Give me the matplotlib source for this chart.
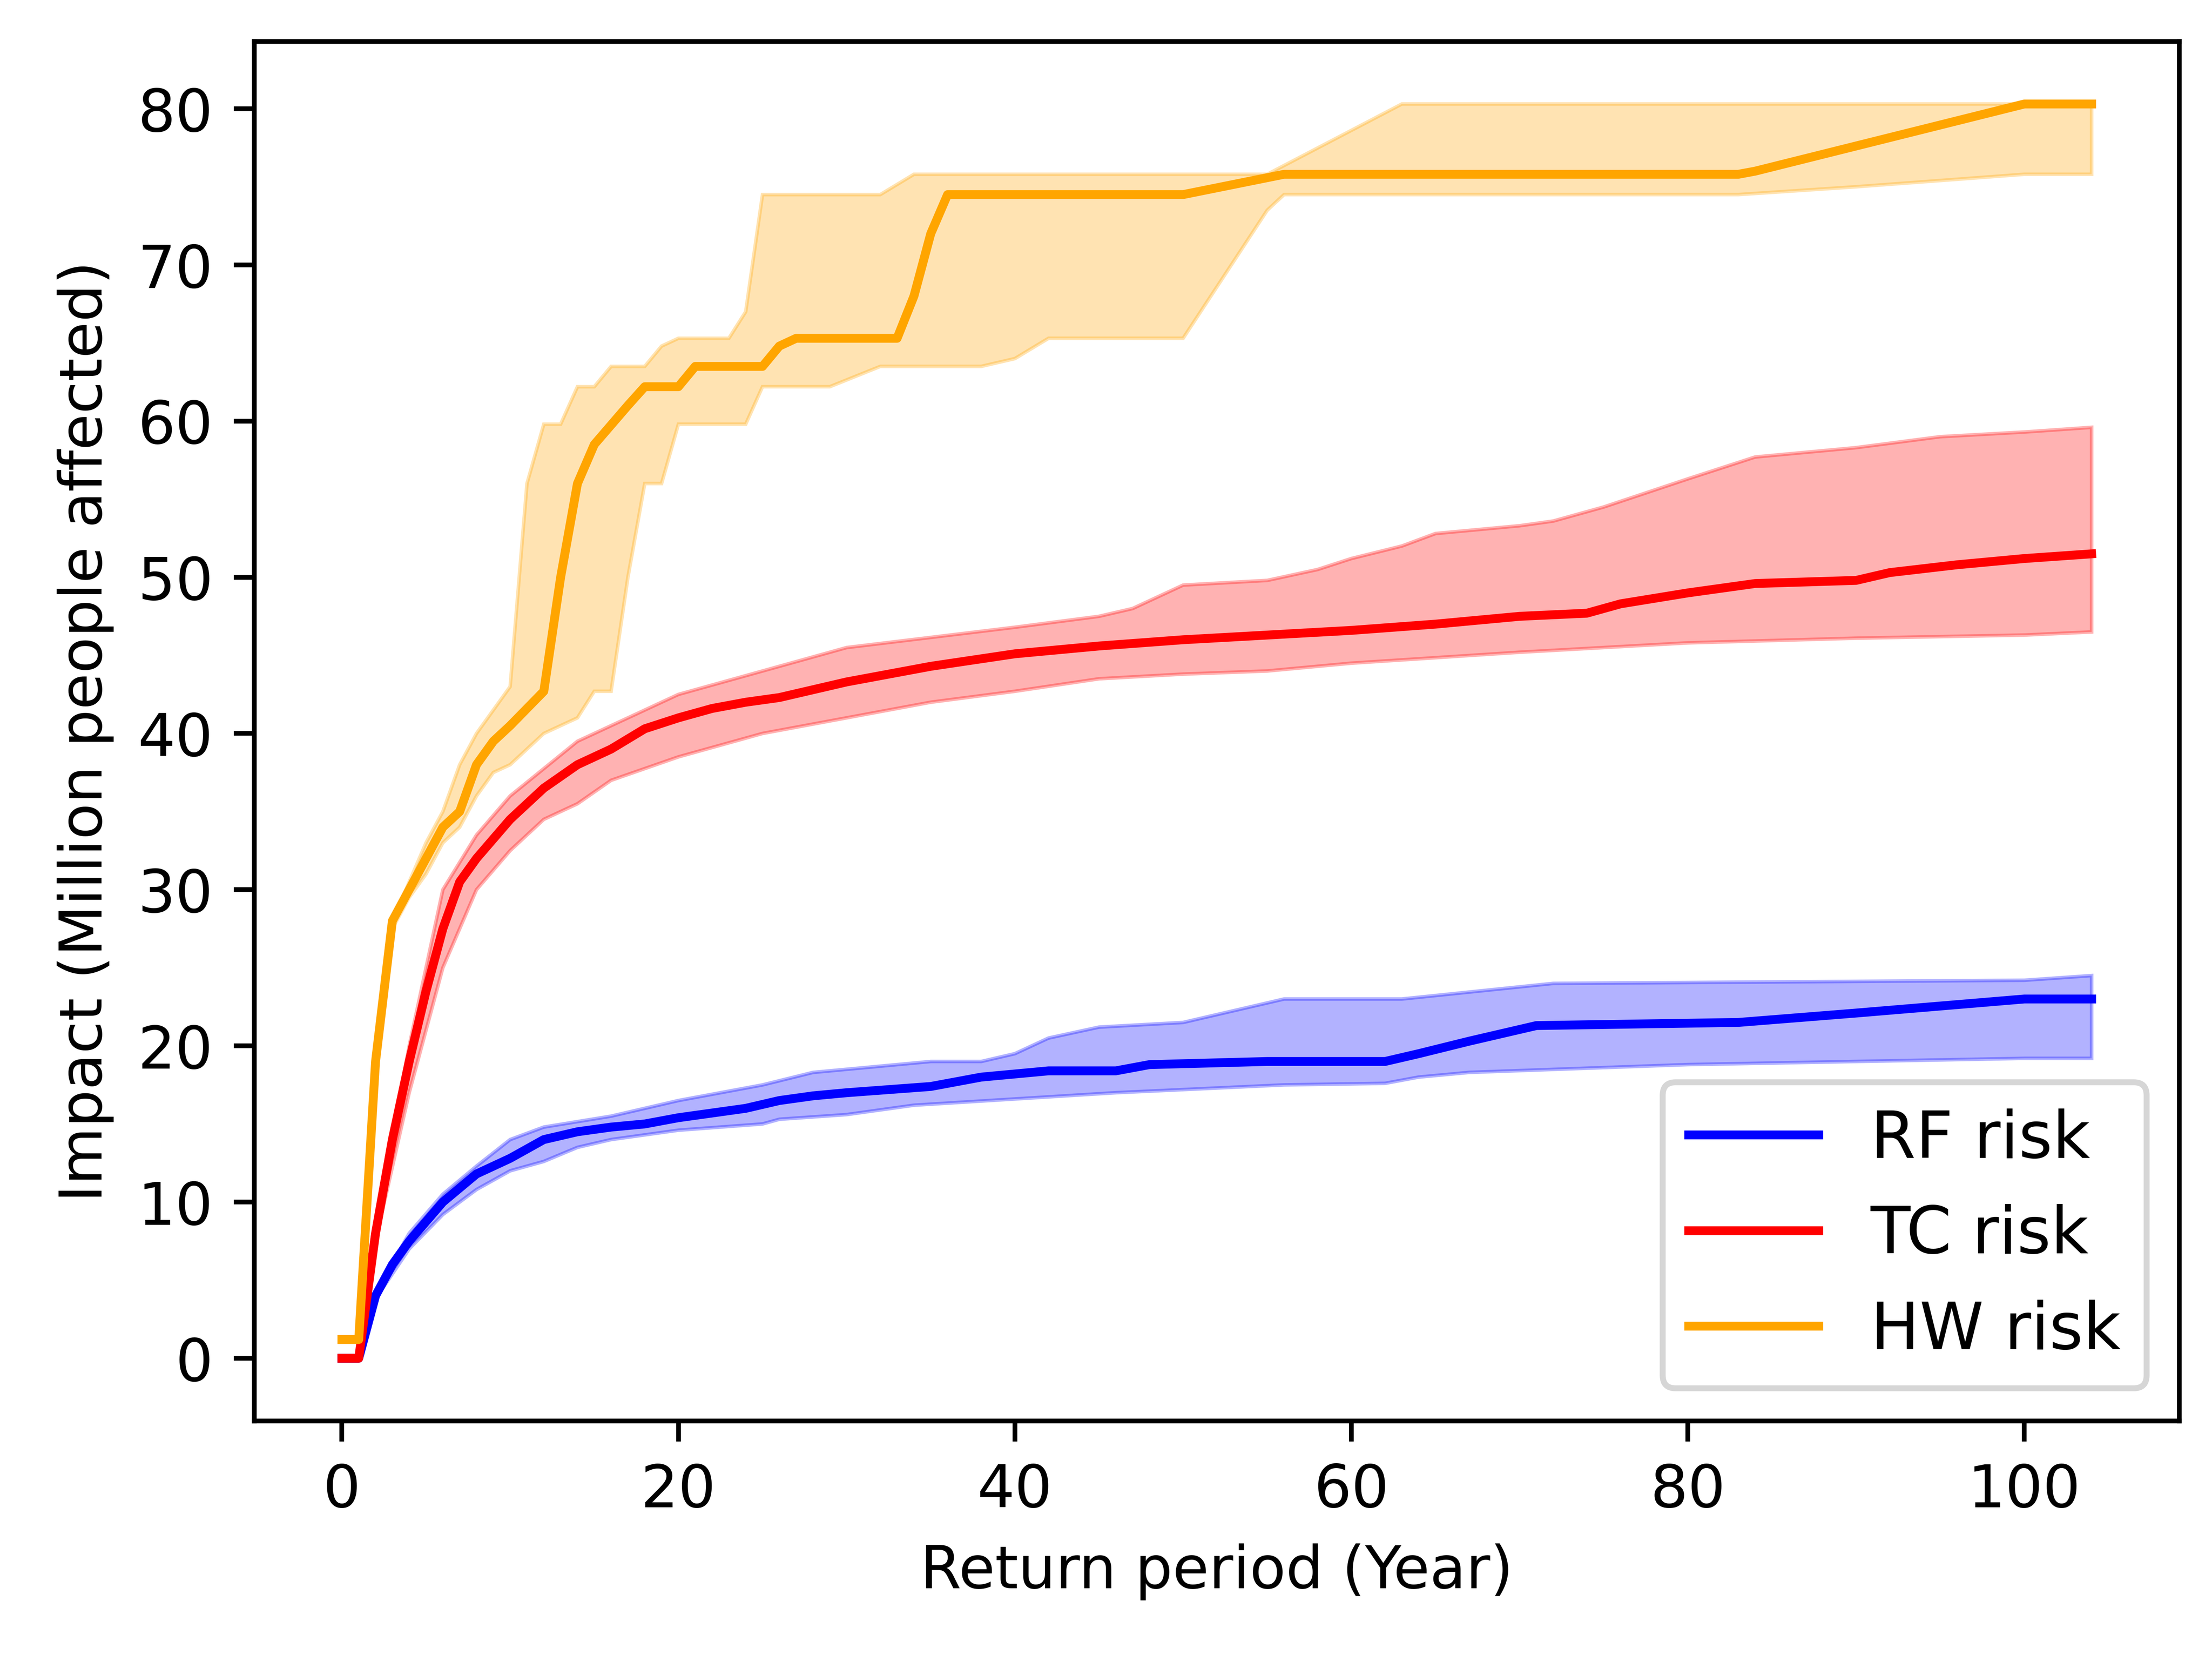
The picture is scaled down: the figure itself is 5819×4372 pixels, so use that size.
import numpy as np
import matplotlib.pyplot as plt

# HW risk
hw_x = [0, 1, 2, 3, 4, 5, 6, 7, 8, 9, 10, 12, 13, 14, 15, 17, 18, 20, 21, 25, 26, 27, 33, 34, 35, 36, 50, 56, 83, 84, 100, 104]
hw_y = [1.2, 1.2, 19, 28, 30, 32, 34, 35, 38, 39.5, 40.5, 42.7, 50, 56, 58.5, 61, 62.2, 62.2, 63.5, 63.5, 64.8, 65.3, 65.3, 68, 72, 74.5, 74.5, 75.8, 75.8, 76, 80.3, 80.3]
hw_up_x = [0, 1, 2, 3, 4, 5, 6, 7, 8, 10, 11, 12, 13, 14, 15, 16, 18, 19, 20, 23, 24, 25, 32, 34, 55, 63, 104]
hw_up_y = [1.2, 1.2, 19, 28, 30.5, 33, 35, 38, 40, 43, 56, 59.8, 59.8, 62.2, 62.2, 63.5, 63.5, 64.8, 65.3, 65.3, 67, 74.5, 74.5, 75.8, 75.8, 80.3, 80.3]
hw_lo_x = [0, 1, 2, 3, 4, 5, 6, 7, 8, 9, 10, 12, 14, 15, 16, 17, 18, 19, 20, 24, 25, 29, 32, 38, 40, 42, 50, 55, 56, 83, 90, 100, 104]
hw_lo_y = [1.2, 1.2, 19, 27.5, 29.5, 31, 33, 34, 36, 37.5, 38, 40, 41, 42.7, 42.7, 50, 56, 56, 59.8, 59.8, 62.2, 62.2, 63.5, 63.5, 64, 65.3, 65.3, 73.5, 74.5, 74.5, 75, 75.8, 75.8]

# TC risk
tc_x = [0, 1, 2, 3, 4, 5, 6, 7, 8, 10, 12, 14, 16, 18, 20, 22, 24, 26, 28, 30, 35, 40, 45, 50, 55, 60, 65, 70, 74, 76, 80, 84, 90, 92, 96, 100, 104]
tc_y = [0, 0, 8, 14, 19, 23.5, 27.5, 30.5, 32, 34.5, 36.5, 38, 39, 40.3, 41, 41.6, 42, 42.3, 42.8, 43.3, 44.3, 45.1, 45.6, 46, 46.3, 46.6, 47, 47.5, 47.7, 48.3, 49, 49.6, 49.8, 50.3, 50.8, 51.2, 51.5]
tc_up_x = [0, 1, 2, 4, 6, 8, 10, 14, 20, 25, 30, 40, 45, 47, 50, 55, 58, 60, 63, 65, 70, 72, 75, 80, 84, 90, 95, 100, 104]
tc_up_y = [0, 0, 8.5, 20, 30, 33.5, 36, 39.5, 42.5, 44, 45.5, 46.8, 47.5, 48, 49.5, 49.8, 50.5, 51.2, 52, 52.8, 53.3, 53.6, 54.5, 56.3, 57.7, 58.3, 59, 59.3, 59.6]
tc_lo_x = [0, 1, 2, 4, 6, 8, 10, 12, 14, 16, 20, 25, 30, 35, 40, 45, 50, 55, 60, 70, 80, 90, 100, 104]
tc_lo_y = [0, 0, 7.5, 17, 25, 30, 32.5, 34.5, 35.5, 37, 38.5, 40, 41, 42, 42.7, 43.5, 43.8, 44, 44.5, 45.2, 45.8, 46.1, 46.3, 46.5]

# RF risk
rf_x = [0, 1, 2, 3, 4, 6, 8, 10, 12, 14, 16, 18, 20, 24, 26, 28, 30, 35, 38, 42, 46, 48, 55, 62, 64, 67, 71, 83, 90, 100, 104]
rf_y = [0, 0, 4, 6, 7.5, 10, 11.8, 12.8, 14, 14.5, 14.8, 15, 15.4, 16, 16.5, 16.8, 17, 17.4, 18, 18.4, 18.4, 18.8, 19, 19, 19.5, 20.3, 21.3, 21.5, 22.1, 23, 23]
rf_up_x = [0, 1, 2, 4, 6, 8, 10, 12, 16, 20, 25, 28, 30, 35, 38, 40, 42, 45, 50, 56, 63, 72, 100, 104]
rf_up_y = [0, 0, 4.2, 8, 10.5, 12.3, 14, 14.8, 15.5, 16.5, 17.5, 18.3, 18.5, 19, 19, 19.5, 20.5, 21.2, 21.5, 23, 23, 24, 24.2, 24.5]
rf_lo_x = [0, 1, 2, 4, 6, 8, 10, 12, 14, 16, 20, 25, 26, 30, 34, 40, 46, 50, 56, 62, 64, 67, 80, 90, 100, 104]
rf_lo_y = [0, 0, 3.8, 7, 9.2, 10.8, 12, 12.6, 13.5, 14, 14.6, 15, 15.3, 15.6, 16.2, 16.6, 17, 17.2, 17.5, 17.6, 18, 18.3, 18.8, 19, 19.2, 19.2]

series = [
    ('RF risk', 'blue', rf_x, rf_y, rf_up_x, rf_up_y, rf_lo_x, rf_lo_y),
    ('TC risk', 'red', tc_x, tc_y, tc_up_x, tc_up_y, tc_lo_x, tc_lo_y),
    ('HW risk', 'orange', hw_x, hw_y, hw_up_x, hw_up_y, hw_lo_x, hw_lo_y),
]

fig, ax = plt.subplots(figsize=(5.2, 3.907))
for name, col, x, y, ux, uy, lx, ly in series:
    ax.fill(ux + lx[::-1], uy + ly[::-1], color=col, alpha=0.3, lw=0.6)
    ax.plot(x, y, color=col, lw=1.5, label=name)

ax.set_xlabel('Return period (Year)', fontsize=10)
ax.set_ylabel('Impact (Million people affected)', fontsize=10)
ax.tick_params(labelsize=10)
ax.legend(loc='lower right', fontsize=11)
fig.subplots_adjust(left=0.115, right=0.985, bottom=0.145, top=0.975)
fig.savefig('out.png', dpi=1119.2)
